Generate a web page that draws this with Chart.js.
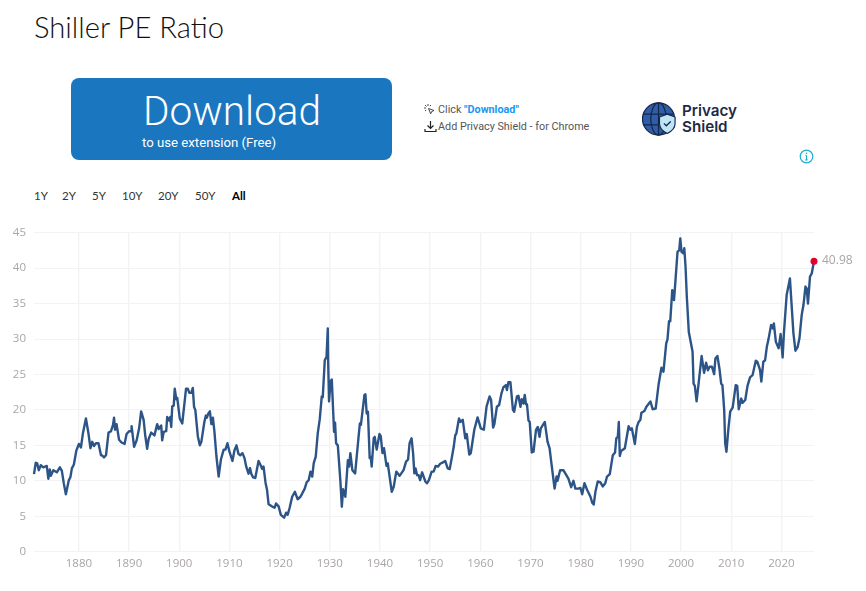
<!DOCTYPE html>
<html>
<head>
<meta charset="utf-8">
<title>Shiller PE Ratio</title>
<script src="https://cdn.jsdelivr.net/npm/chart.js@4"></script>
<style>
  html, body { margin: 0; padding: 0; background: #fff; }
  body { position: relative; width: 866px; height: 591px; overflow: hidden; }
  .abs { position: absolute; white-space: nowrap; }
  #title { left: 34px; top: 7px; font: 300 29.2px/40px Lato, sans-serif; color: #111; }
  #button { left: 71px; top: 78px; width: 321px; height: 82px; background: #1a76bf; border-radius: 8px; }
  #button-big { left: 143px; top: 86px; font: 300 40.5px/50px Roboto, sans-serif; color: #fff; }
  #button-small { left: 142px; top: 134px; font: 400 13.2px/18px Roboto, sans-serif; color: #fff; }
  .hint { left: 438px; font: 400 10.8px/14px Roboto, sans-serif; color: #555; }
  .hint b { color: #2196f3; }
  .brand { left: 682px; font: 600 15.2px/16px Inter, sans-serif; color: #1e2a44; }
  #ranges { left: 34px; top: 189px; font: 400 11.5px/14px Lato, sans-serif; color: #333; }
  #ranges span { position: absolute; top: 0; }
  #ranges .on { color: #000; font-weight: 700; }
  #wrap { left: 0; top: 220px; width: 866px; height: 360px; }
</style>
</head>
<body>
<div id="title" class="abs">Shiller PE Ratio</div>
<div id="button" class="abs"></div>
<div id="button-big" class="abs">Download</div>
<div id="button-small" class="abs">to use extension (Free)</div>

<svg class="abs" style="left:423px;top:103px" width="13" height="13" viewBox="0 0 13 13" fill="none" stroke="#444" stroke-width="1">
  <path d="M5 1v2M1 5h2M2 2l1.500 1.500M8 2L6.800 3.200M2 8l1.200-1.200"/>
  <path d="M5.500 5.500l5.500 2-2.300 1 -1 2.300z"/>
</svg>
<div class="abs hint" style="top:103px">Click <b>"Download"</b></div>
<svg class="abs" style="left:423.500px;top:120px" width="13" height="13" viewBox="0 0 13 13" fill="none" stroke="#222" stroke-width="1.200">
  <path d="M6.500 1v7M3.500 5.500l3 3 3-3M1 9v2.500h11V9"/>
</svg>
<div class="abs hint" style="top:119.500px">Add Privacy Shield - for Chrome</div>

<svg class="abs" style="left:642px;top:101px" width="35" height="36" viewBox="0 0 36 36">
  <circle cx="17" cy="18" r="16.500" fill="#2f5ea8"/>
  <g fill="none" stroke="#16264a" stroke-width="1.300">
    <circle cx="17" cy="18" r="16.500"/>
    <ellipse cx="17" cy="18" rx="8" ry="16.500"/>
    <path d="M17 1.500v33M1 13h32M1 24h32"/>
  </g>
  <path d="M26 13l8 3v7c0 5-4 8-8 10-4-2-8-5-8-10v-7z" fill="#bfe6f7" stroke="#16264a" stroke-width="1.200"/>
  <path d="M22.500 22.500l2.500 2.500 4.500-4.500" fill="none" stroke="#16264a" stroke-width="1.300"/>
</svg>
<div class="abs brand" style="top:103px">Privacy</div>
<div class="abs brand" style="top:119px">Shield</div>

<svg class="abs" style="left:799px;top:149px" width="15" height="15" viewBox="0 0 15 15">
  <circle cx="7.500" cy="7.500" r="6.300" fill="none" stroke="#17b0d6" stroke-width="1.200"/>
  <path d="M7.500 6.500v4M6.300 10.800h2.400M6.500 6.300h1" fill="none" stroke="#17b0d6" stroke-width="1.200"/>
  <circle cx="7.500" cy="4.300" r="0.800" fill="#17b0d6"/>
</svg>

<div id="ranges" class="abs"></div>
<div id="wrap" class="abs"><canvas id="peChart"></canvas></div>

<script>
const rangeLabels = ["1Y", "2Y", "5Y", "10Y", "20Y", "50Y", "All"]
const rangeLefts = [0, 28, 58, 88, 124, 161, 198]

const xTickYears = [1880, 1890, 1900, 1910, 1920, 1930, 1940, 1950, 1960, 1970, 1980, 1990, 2000, 2010, 2020]
const yTickValues = [0, 5, 10, 15, 20, 25, 30, 35, 40, 45]

const years = [
  1871.05, 1871.4, 1871.7, 1872, 1872.4, 1872.9, 1873.6, 1873.9, 1874.2, 1874.4, 1874.9, 1875.6, 1876.2, 1876.6, 1877, 1877.4, 1878, 1878.3, 1878.6, 1879,
  1879.5, 1880, 1880.4, 1880.8, 1881.4, 1881.9, 1882.3, 1882.65, 1883, 1883.4, 1883.9, 1884.4, 1884.6, 1885, 1885.4, 1885.9, 1886.4, 1886.8, 1887, 1887.2,
  1887.5, 1888, 1888.5, 1889.1, 1889.5, 1890, 1890.4, 1890.5, 1891, 1891.5, 1892, 1892.4, 1892.9, 1893.2, 1893.6, 1893.9, 1894.4, 1895.05, 1895.6, 1895.9,
  1896.4, 1896.6, 1896.9, 1897.4, 1897.6, 1898, 1898.2, 1898.4, 1898.6, 1898.9, 1899.1, 1899.4, 1899.6, 1900.1, 1900.6, 1901.35, 1901.7, 1902, 1902.4, 1902.7,
  1902.95, 1903.2, 1903.7, 1904.1, 1904.4, 1905, 1905.3, 1905.5, 1905.8, 1906.1, 1906.4, 1906.7, 1907, 1907.4, 1907.85, 1908.3, 1908.85, 1909.2, 1909.6, 1910.05,
  1910.6, 1911, 1911.4, 1911.8, 1912.15, 1912.6, 1913, 1913.35, 1913.8, 1914.1, 1914.35, 1914.7, 1915.15, 1915.8, 1916.3, 1916.5, 1916.8, 1917.2, 1917.5, 1917.8,
  1918.45, 1919, 1919.3, 1919.8, 1920.25, 1920.9, 1921.3, 1921.6, 1922, 1922.5, 1923.05, 1923.6, 1924.15, 1924.5, 1925, 1925.4, 1925.8, 1926.15, 1926.5, 1926.8,
  1927.2, 1927.6, 1928, 1928.4, 1928.6, 1929, 1929.35, 1929.6, 1929.67, 1929.85, 1930.15, 1930.4, 1930.85, 1931.05, 1931.25, 1931.6, 1932.1, 1932.4, 1932.65, 1933.1,
  1933.6, 1933.85, 1934.1, 1934.5, 1935.05, 1935.8, 1936, 1936.2, 1936.9, 1937.1, 1937.35, 1937.6, 1937.95, 1938.15, 1938.35, 1938.75, 1938.95, 1939.35, 1939.9, 1940.15,
  1940.5, 1940.8, 1941.3, 1941.55, 1942.35, 1942.75, 1943.25, 1943.9, 1944.7, 1945.2, 1945.6, 1945.9, 1946.3, 1946.6, 1946.85, 1947.1, 1947.4, 1947.7, 1948, 1948.4,
  1949.05, 1949.35, 1949.75, 1950.3, 1950.7, 1951.1, 1951.55, 1952, 1952.55, 1953, 1953.5, 1953.9, 1954.35, 1954.7, 1955, 1955.2, 1955.75, 1956.05, 1956.5, 1957,
  1957.3, 1957.8, 1958.1, 1958.8, 1959.45, 1960.1, 1960.7, 1961.25, 1961.85, 1962.15, 1962.55, 1962.8, 1963.3, 1963.75, 1964.2, 1964.6, 1965.1, 1965.3, 1965.6, 1966,
  1966.5, 1966.75, 1967.3, 1967.6, 1968, 1968.25, 1968.6, 1968.85, 1969.1, 1969.3, 1969.6, 1969.85, 1970.25, 1970.6, 1971.1, 1971.45, 1971.8, 1972.05, 1972.85, 1973.4,
  1973.8, 1974.25, 1974.8, 1975.2, 1975.4, 1975.9, 1976.55, 1977.55, 1978.1, 1978.55, 1978.95, 1979.5, 1979.95, 1980.3, 1980.75, 1981.3, 1981.95, 1982.3, 1982.6, 1982.95,
  1983.4, 1983.9, 1984.4, 1984.9, 1985.25, 1985.8, 1986.4, 1986.85, 1987.1, 1987.4, 1987.6, 1987.8, 1988.05, 1988.8, 1989.55, 1989.9, 1990.2, 1990.8, 1991.2, 1991.55,
  1991.9, 1992.1, 1992.7, 1993.1, 1993.9, 1994.35, 1994.95, 1995.55, 1996.1, 1996.5, 1997.05, 1997.3, 1997.6, 1997.85, 1998.25, 1998.6, 1998.85, 1999.3, 1999.65, 1999.85,
  2000.1, 2000.45, 2000.65, 2000.9, 2001.15, 2001.55, 2002.3, 2002.5, 2002.75, 2003.1, 2003.5, 2004.1, 2004.6, 2005, 2005.35, 2005.7, 2006.15, 2006.6, 2006.85, 2007.25,
  2007.65, 2008, 2008.25, 2008.6, 2008.8, 2009.05, 2009.45, 2009.8, 2010.3, 2010.9, 2011.2, 2011.5, 2012, 2012.25, 2012.8, 2013.25, 2013.75, 2014.25, 2014.9, 2015.2,
  2015.75, 2016, 2016.4, 2016.75, 2017.1, 2017.4, 2017.95, 2018.3, 2018.5, 2018.9, 2019.45, 2019.85, 2020.25, 2020.5, 2021.05, 2021.7, 2022.4, 2022.8, 2023.25, 2023.6,
  2024.05, 2024.4, 2024.8, 2025.05, 2025.3, 2025.7, 2026.05, 2026.5
]

const peValues = [
  10.95, 12.55, 12.45, 11.5, 12.2, 11.9, 12.1, 10.3, 11.6, 10.7, 11.5, 11.2, 11.9, 11.4, 9.6, 8.1, 10.1, 10.5, 11.75, 12.3,
  14.3, 15.2, 14.7, 16.7, 18.8, 16.7, 14.6, 15.5, 14.9, 15.3, 15.3, 13.6, 13.6, 13.3, 13.6, 16.8, 17, 17.9, 18.9, 17.2,
  18, 15.8, 15.4, 15.2, 16.6, 17, 17, 17.7, 14.8, 15.7, 17.4, 19.8, 18.6, 16.5, 14.5, 15.9, 16.8, 16.4, 18, 17.3,
  17.8, 15.7, 16.9, 17, 19, 18.5, 19, 17.6, 20.5, 20.6, 23, 21.5, 21.7, 18.8, 18.1, 23, 23, 22.4, 22.4, 23.1,
  20.4, 20, 16.3, 15, 15.5, 18.3, 19.2, 18.9, 19.5, 19.8, 18, 18.9, 17, 13.5, 10.6, 13, 14.4, 14.4, 15.3, 14,
  12.8, 14.3, 15, 13.8, 13.6, 13.9, 13.2, 12, 11, 11.8, 11, 10.5, 10.4, 12.8, 12.1, 11.7, 12, 9.7, 8.7, 6.7,
  6.4, 6.2, 6.8, 6.4, 5.2, 4.8, 5.5, 5.2, 6.2, 7.75, 8.45, 7.4, 7.75, 8.2, 8.9, 9.8, 10.1, 11.3, 10.6, 12.5,
  13.4, 16.7, 18.7, 21.9, 21.8, 27, 27.5, 31.5, 27, 21.2, 24, 24.3, 16.9, 18.2, 15.3, 15, 10.1, 6.35, 8.8, 7.75,
  12.9, 12, 13.9, 11.5, 11.05, 16.7, 18.1, 17.9, 22.1, 22.2, 19.5, 19.75, 13.2, 13.4, 12, 16, 16.2, 14.4, 16.6, 16.3,
  13.9, 14.6, 12.1, 12.45, 8.45, 9.2, 11.3, 10.7, 11.5, 12.7, 13, 15.3, 16, 13.9, 11.05, 11.75, 10.8, 10.8, 10.1, 11.2,
  9.9, 9.65, 10.1, 11.3, 11.3, 12.1, 12, 12.4, 12.6, 12.8, 11.75, 11.65, 13.4, 14.8, 16.45, 16.6, 18.8, 18.3, 18.6, 16,
  16.6, 13.7, 13.9, 17.2, 18.95, 17.4, 17.2, 20.5, 21.9, 21.4, 17.5, 18, 20.45, 20.7, 22.3, 23.2, 23.5, 22.8, 23.9, 23.9,
  20, 19.75, 21.9, 22, 20.45, 21.5, 20.9, 22.1, 20.8, 20.8, 18.5, 18.3, 14, 14.1, 17.2, 17.6, 16.2, 17.4, 18.3, 15.5,
  14.6, 12, 8.9, 10.6, 10, 11.5, 11.5, 10.3, 9.1, 10, 8.9, 8.9, 9, 8.1, 9.65, 8.7, 7.75, 6.9, 6.65, 8.5,
  9.9, 9.8, 9.2, 9.65, 10.6, 10.95, 13.6, 14, 16, 16.2, 18.3, 13.5, 14.2, 14.6, 17.7, 17.2, 17.4, 15.2, 17.6, 18.3,
  18.6, 19.6, 19.85, 20.45, 21.2, 20.1, 20.2, 23.7, 25.95, 25.4, 29.4, 29.95, 32.5, 32.5, 36.9, 35.5, 37.85, 42.3, 42.55, 44.2,
  42.3, 42.1, 42.8, 40.2, 36, 31, 28.2, 23.7, 23.4, 21.2, 23.7, 27.6, 25.25, 26.65, 25.6, 26.1, 26.1, 25.05, 27.25, 27.6,
  25.85, 23.7, 23.5, 20, 15.3, 14.1, 17.4, 19.75, 20.35, 23.5, 23.4, 20.1, 21.6, 21, 21.4, 23.4, 24.6, 24.9, 26.95, 26.8,
  25.6, 24, 26.8, 27, 28.9, 29.85, 32, 31.5, 32.2, 29.6, 28.7, 30.7, 27.4, 30.8, 36.2, 38.55, 30.8, 28.35, 28.9, 30.1,
  33.4, 34.8, 37.4, 37.1, 35, 38.8, 39.25, 40.98
]

const rangesEl = document.getElementById("ranges")
rangeLabels.forEach((label, i) => {
  const el = document.createElement("span")
  el.textContent = label
  el.style.left = rangeLefts[i] + "px"
  if (label === "All") el.className = "on"
  rangesEl.appendChild(el)
})

// value label next to the last point
const lastValueLabel = {
  id: "lastValueLabel",
  afterDatasetsDraw(chart) {
    const { ctx, scales } = chart
    const i = peValues.length - 1
    ctx.save()
    ctx.font = "12px 'Open Sans', sans-serif"
    ctx.fillStyle = "#aaa5a5"
    ctx.textBaseline = "middle"
    ctx.fillText(peValues[i].toFixed(2), scales.x.getPixelForValue(years[i]) + 8, scales.y.getPixelForValue(peValues[i]) - 1)
    ctx.restore()
  }
}

const tickFont = { family: "'Open Sans', sans-serif", size: 11.5 }
const gridColor = "#f3f3f5"

new Chart(document.getElementById("peChart"), {
  type: "line",
  data: {
    datasets: [{
      data: years.map((y, i) => ({ x: y, y: peValues[i] })),
      borderColor: "#2c5487",
      borderWidth: 2.4,
      borderJoinStyle: "round",
      tension: 0,
      pointRadius: ctx => ctx.dataIndex === years.length - 1 ? 3.5 : 0,
      pointBackgroundColor: "#e8002a",
      pointBorderWidth: 0,
      clip: false
    }]
  },
  options: {
    responsive: true,
    maintainAspectRatio: false,
    animation: false,
    layout: { padding: { top: 12.7, right: 52, left: 0, bottom: 0 } },
    plugins: { legend: { display: false }, tooltip: { enabled: false } },
    scales: {
      x: {
        type: "linear",
        min: 1871.05,
        max: 2026.5,
        afterBuildTicks: axis => { axis.ticks = xTickYears.map(v => ({ value: v })) },
        afterFit: axis => { axis.height = 28.3 },
        ticks: { color: "#aaa5a5", font: tickFont, padding: 5, maxRotation: 0, autoSkip: false, callback: v => String(v) },
        grid: { color: gridColor, lineWidth: 1.4, drawTicks: false },
        border: { display: false }
      },
      y: {
        min: 0,
        max: 45,
        afterBuildTicks: axis => { axis.ticks = yTickValues.map(v => ({ value: v })) },
        // tick padding would otherwise push the plot top down
        afterFit: axis => { axis.width = 34; axis.paddingTop = 0; axis.paddingBottom = 0 },
        ticks: { color: "#aaa5a5", font: tickFont, padding: 8 },
        grid: { color: gridColor, drawTicks: false },
        border: { display: false }
      }
    }
  },
  plugins: [lastValueLabel]
})
</script>
</body>
</html>
